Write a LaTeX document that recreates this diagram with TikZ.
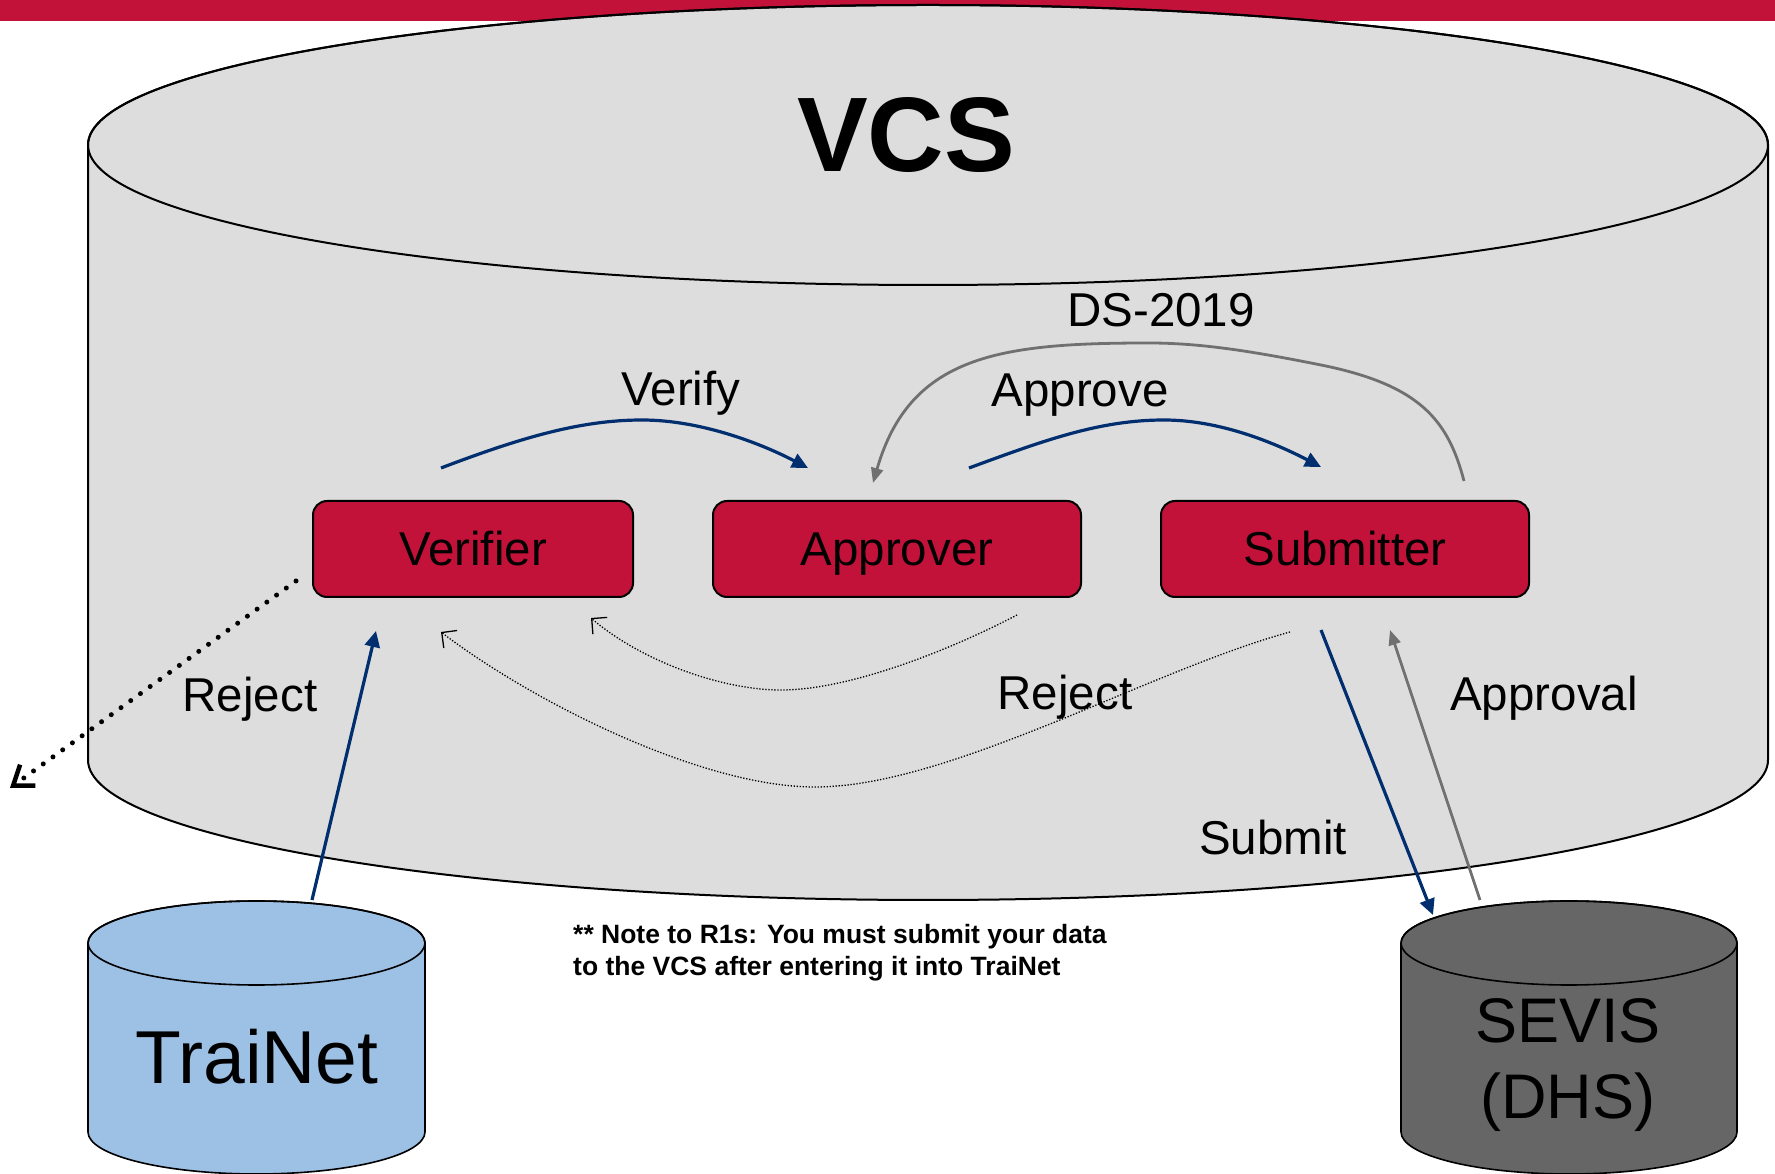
\documentclass[tikz,border=0pt]{standalone}
\usepackage{fontspec}
\setmainfont{Liberation Sans}
\usetikzlibrary{arrows.meta}
\definecolor{crim}{HTML}{C3123A}
\definecolor{navy}{HTML}{002E6E}
\definecolor{arrgrey}{HTML}{707070}
\definecolor{vcsfill}{HTML}{DDDDDD}
\definecolor{tnblue}{HTML}{9DC0E5}
\definecolor{sevgrey}{HTML}{666666}
\begin{document}
\begin{tikzpicture}[x=1pt,y=1pt,
  rolebox/.style={draw=black, line width=2pt, fill=crim, rounded corners=14pt, minimum height=96pt, inner sep=0pt, font=\fontsize{47.5}{57}\selectfont, text height=34pt, text depth=0pt},
  lbl/.style={anchor=base, inner sep=0pt, font=\fontsize{47.5}{57}\selectfont},
  navyarrow/.style={draw=navy, line width=3.2pt, -{Triangle[length=16pt,width=15pt]}},
  greyarrow/.style={draw=arrgrey, line width=2.8pt, -{Triangle[length=15pt,width=12pt]}},
  rejarrow/.style={draw=black, line width=1.3pt, dash pattern=on 1.3pt off 1.7pt, -{Straight Barb[length=11pt,width=22pt]}},
  notestyle/.style={anchor=base west, inner sep=0pt, font=\bfseries\fontsize{26.5}{32}\selectfont},
]
\useasboundingbox (0,0) rectangle (1775,1173);
\fill[crim] (0,1152) rectangle (1775,1173);

% VCS cylinder
\filldraw[fill=vcsfill, draw=black, line width=2pt] (88,1028) -- (88,413)
  arc[start angle=180,end angle=360,x radius=840pt,y radius=140pt] -- (1768,1028)
  arc[start angle=0,end angle=180,x radius=840pt,y radius=140pt] -- cycle;
\draw[line width=2pt] (928,1028) ellipse[x radius=840pt,y radius=140pt];
\node[anchor=base, inner sep=0pt, font=\bfseries\fontsize{106}{120}\selectfont] (vcs) at (906,1001) {VCS};

% TraiNet cylinder
\filldraw[fill=tnblue, draw=black, line width=1.6pt] (88,230) -- (88,41)
  arc[start angle=180,end angle=360,x radius=168.5pt,y radius=42pt] -- (425,230)
  arc[start angle=0,end angle=180,x radius=168.5pt,y radius=42pt] -- cycle;
\draw[line width=1.6pt] (256.5,230) ellipse[x radius=168.5pt,y radius=42pt];
\node[anchor=base, inner sep=0pt, font=\fontsize{75}{90}\selectfont] (trainet) at (257,89) {TraiNet};

% SEVIS cylinder
\filldraw[fill=sevgrey, draw=black, line width=1.6pt] (1401,230) -- (1401,41)
  arc[start angle=180,end angle=360,x radius=168pt,y radius=42pt] -- (1737,230)
  arc[start angle=0,end angle=180,x radius=168pt,y radius=42pt] -- cycle;
\draw[line width=1.6pt] (1569,230) ellipse[x radius=168pt,y radius=42pt];
\node[anchor=base, inner sep=0pt, font=\fontsize{63}{76}\selectfont] (sevis) at (1568,131) {SEVIS};
\node[anchor=base, inner sep=0pt, font=\fontsize{63}{76}\selectfont] (dhs) at (1568,55) {(DHS)};

% role boxes
\node[rolebox, minimum width=320pt] (verifier) at (473,624) {Verifier};
\node[rolebox, minimum width=368pt] (approver) at (897,624) {Approver};
\node[rolebox, minimum width=368pt] (submitter) at (1345,624) {Submitter};

% labels
\node[lbl] (lverify) at (681,767) {Verify};
\node[lbl] (lapprove) at (1080,766) {Approve};
\node[lbl] (lds) at (1161,846) {DS-2019};
\node[lbl] (lrejL) at (250,461) {Reject};
\node[lbl] (lrejM) at (1065,463) {Reject};
\node[lbl] (lapproval) at (1544,462) {Approval};
\node[lbl] (lsubmit) at (1273,318) {Submit};

\node[notestyle] (note1) at (573,229) {** Note to R1s: You must submit your data};
\node[notestyle] (note2) at (573,197) {to the VCS after entering it into TraiNet};

% connector end points
\coordinate (vf-a) at ([shift={(-32,32)}]verifier.north);
\coordinate (ap-a) at ([shift={(-89,32)}]approver.north);
\coordinate (ap-b) at ([shift={(72,32)}]approver.north);
\coordinate (sb-a) at ([shift={(-24,33)}]submitter.north);
\coordinate (sb-b) at ([shift={(119,19)}]submitter.north);
\coordinate (ap-c) at ([shift={(-24,17)}]approver.north);
\coordinate (ap-rej) at ([shift={(120,-17)}]approver.south);
\coordinate (vf-rej1) at ([shift={(-43,-20)}]verifier.south east);
\coordinate (sb-rej) at ([shift={(-55,-34)}]submitter.south);
\coordinate (vf-rej2) at ([shift={(-32,-34)}]verifier.south);
\coordinate (vf-out) at ([shift={(-16,-32)}]verifier.west);
\coordinate (rej-out) at (10,385);
\coordinate (tn-top) at (312,273);
\coordinate (vf-in) at ([shift={(-97,-33)}]verifier.south);
\coordinate (sb-out) at ([shift={(-24,-32)}]submitter.south);
\coordinate (sv-in) at (1433,258);
\coordinate (sv-out) at (1480,273);
\coordinate (sb-in) at ([shift={(45,-32)}]submitter.south);

% connectors
\draw[navyarrow] (vf-a) .. controls (520,735) and (580,753) .. (642,753)
  .. controls (700,753) and (760,730) .. (ap-a);
\draw[navyarrow] (ap-b) .. controls (1045,733) and (1100,753) .. (1164,753)
  .. controls (1220,753) and (1275,730) .. (sb-a);
\draw[greyarrow] (sb-b) .. controls (1448,753) and (1420,788) .. (1321,808)
  .. controls (1251,822) and (1200,830) .. (1149,830)
  .. controls (1000,830) and (910,818) .. (ap-c);
\draw[rejarrow] (ap-rej) .. controls (950,523) and (850,483) .. (781,483)
  .. controls (720,483) and (640,513) .. (vf-rej1);
\draw[rejarrow] (sb-rej) .. controls (1150,503) and (950,386) .. (815,386)
  .. controls (700,386) and (530,473) .. (vf-rej2);
\draw[line width=5pt, line cap=round, dash pattern=on 0pt off 12pt,
  -{Straight Barb[length=18pt,width=26pt,line width=4.5pt]}] (vf-out) -- (rej-out);
\draw[navyarrow] (tn-top) -- (vf-in);
\draw[navyarrow] (sb-out) -- (sv-in);
\draw[greyarrow] (sv-out) -- (sb-in);
\end{tikzpicture}
\end{document}
